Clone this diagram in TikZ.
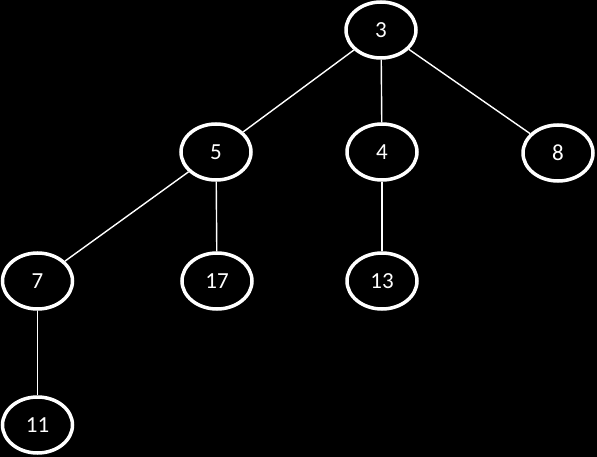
\documentclass[tikz,border=0pt]{standalone}
\usepackage{fontspec}
\setmainfont{Carlito}
\usetikzlibrary{shapes.geometric}
\begin{document}
\begin{tikzpicture}[x=1pt,y=-1pt,
  treenode/.style={ellipse,draw=white,line width=3.5pt,fill=black,text=white,
    minimum width=70pt,minimum height=56pt,inner sep=0pt,
    font=\fontsize{23}{27}\selectfont},
  edge/.style={draw=white,line width=1.4pt}]
\fill[black] (0,0) rectangle (597,457);
\useasboundingbox (0,0) rectangle (597,457);
\node[treenode] (n3) at (381,30) {3};
\node[treenode] (n5) at (216,152) {5};
\node[treenode] (n4) at (382,152) {4};
\node[treenode] (n8) at (558,153) {8};
\node[treenode] (n7) at (37.5,281) {7};
\node[treenode] (n17) at (217,281) {17};
\node[treenode] (n13) at (382,281) {13};
\node[treenode] (n11) at (37.5,425) {11};
\draw[edge] (n3) -- (n5);
\draw[edge] (n3) -- (n4);
\draw[edge] (n3) -- (n8);
\draw[edge] (n5) -- (n7);
\draw[edge] (n5) -- (n17);
\draw[edge] (n4) -- (n13);
\draw[edge] (n7) -- (n11);
\end{tikzpicture}
\end{document}
